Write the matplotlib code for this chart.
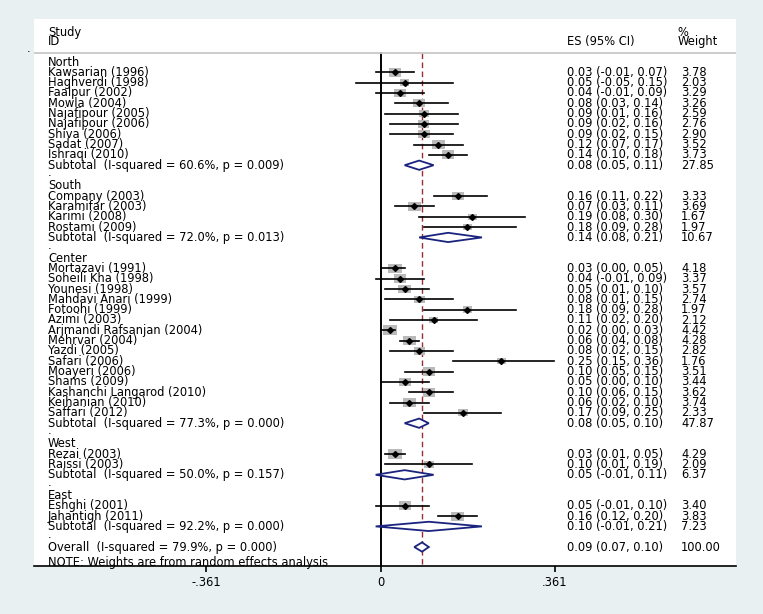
import numpy as np
import matplotlib
matplotlib.use("Agg")
import matplotlib.pyplot as plt
from matplotlib.patches import Rectangle, Polygon

plt.rcParams['font.family'] = ['DejaVu Sans']
plt.rcParams['font.size'] = 8.3

# ---- data ----
north_names = ["Kawsarian (1996)", "Haghverdi (1998)", "Faalpur (2002)", "Mowla (2004)",
               "Najafipour (2005)", "Najafipour (2006)", "Shiva (2006)", "Sadat (2007)",
               "Ishraqi (2010)"]
north_es = [0.03, 0.05, 0.04, 0.08, 0.09, 0.09, 0.09, 0.12, 0.14]
north_lo = [-0.01, -0.05, -0.01, 0.03, 0.01, 0.02, 0.02, 0.07, 0.10]
north_hi = [0.07, 0.15, 0.09, 0.14, 0.16, 0.16, 0.15, 0.17, 0.18]
north_wt = [3.78, 2.03, 3.29, 3.26, 2.59, 2.76, 2.90, 3.52, 3.73]

south_names = ["Company (2003)", "Karamifar (2003)", "Karimi (2008)", "Rostami (2009)"]
south_es = [0.16, 0.07, 0.19, 0.18]
south_lo = [0.11, 0.03, 0.08, 0.09]
south_hi = [0.22, 0.11, 0.30, 0.28]
south_wt = [3.33, 3.69, 1.67, 1.97]

center_names = ["Mortazavi (1991)", "Soheili Kha (1998)", "Younesi (1998)",
                "Mahdavi Anari (1999)", "Fotoohi (1999)", "Azimi (2003)",
                "Arjmandi Rafsanjan (2004)", "Mehrvar (2004)", "Yazdi (2005)",
                "Safari (2006)", "Moayeri (2006)", "Shams (2009)",
                "Kashanchi Langarod (2010)", "Keihanian (2010)", "Saffari (2012)"]
center_es = [0.03, 0.04, 0.05, 0.08, 0.18, 0.11, 0.02, 0.06, 0.08, 0.25, 0.10, 0.05, 0.10, 0.06, 0.17]
center_lo = [0.00, -0.01, 0.01, 0.01, 0.09, 0.02, 0.00, 0.04, 0.02, 0.15, 0.05, 0.00, 0.06, 0.02, 0.09]
center_hi = [0.05, 0.09, 0.10, 0.15, 0.28, 0.20, 0.03, 0.08, 0.15, 0.36, 0.15, 0.10, 0.15, 0.10, 0.25]
center_wt = [4.18, 3.37, 3.57, 2.74, 1.97, 2.12, 4.42, 4.28, 2.82, 1.76, 3.51, 3.44, 3.62, 3.74, 2.33]

west_names = ["Rezai (2003)", "Raissi (2003)"]
west_es = [0.03, 0.10]
west_lo = [0.01, 0.01]
west_hi = [0.05, 0.19]
west_wt = [4.29, 2.09]

east_names = ["Eshghi (2001)", "Jahantigh (2011)"]
east_es = [0.05, 0.16]
east_lo = [-0.01, 0.12]
east_hi = [0.10, 0.20]
east_wt = [3.40, 3.83]

group_names = ["North", "South", "Center", "West", "East"]
sub_i2 = [60.6, 72.0, 77.3, 50.0, 92.2]
sub_p = [0.009, 0.013, 0.000, 0.157, 0.000]
sub_es = [0.08, 0.14, 0.08, 0.05, 0.10]
sub_lo = [0.05, 0.08, 0.05, -0.01, -0.01]
sub_hi = [0.11, 0.21, 0.10, 0.11, 0.21]
sub_wt = [27.85, 10.67, 47.87, 6.37, 7.23]

overall_es, overall_lo, overall_hi, overall_wt = 0.086, 0.07, 0.10, 100.00
overall_i2, overall_p = 79.9, 0.000

xticks = [-0.361, 0, 0.361]
xtick_labels = ["-.361", "0", ".361"]

groups = [
    (north_names, north_es, north_lo, north_hi, north_wt),
    (south_names, south_es, south_lo, south_hi, south_wt),
    (center_names, center_es, center_lo, center_hi, center_wt),
    (west_names, west_es, west_lo, west_hi, west_wt),
    (east_names, east_es, east_lo, east_hi, east_wt),
]

# ---- figure ----
W, H = 763, 614
fig = plt.figure(figsize=(W / 100, H / 100), dpi=100, facecolor='#e8f0f2')
ax = fig.add_axes([34 / W, 48 / H, 702 / W, 547 / H])
ax.set_facecolor('white')

px_x = 483.0   # pixels per effect unit
px_row = 10.32  # pixels per row
ax.set_xlim(-346.5 / px_x, 355.5 / px_x)
ax.set_ylim(504 / px_row, -43 / px_row)

trans = ax.get_yaxis_transform()
x_lab, x_es, x_wt = 0.0199, 0.759, 0.9217
diamond_col = '#1a237e'


def fmt(es, lo, hi):
    return f"{es:.2f} ({lo:.2f}, {hi:.2f})"


def diamond(es, lo, hi, r):
    h = 0.45
    ax.add_patch(Polygon([(lo, r), (es, r - h), (hi, r), (es, r + h)], closed=True,
                         facecolor='white', edgecolor=diamond_col, lw=1.3, zorder=4))


row = 0
for g, (names, es, lo, hi, wt) in enumerate(groups):
    ax.text(x_lab, row, group_names[g], transform=trans, va='center')
    row += 1
    for n, e, l, h, w in zip(names, es, lo, hi, wt):
        side = 6.6 * np.sqrt(w)
        bw, bh = side / px_x, side / 1.42 / px_row
        ax.add_patch(Rectangle((e - bw / 2, row - bh / 2), bw, bh,
                               facecolor='#bababa', edgecolor='none', zorder=2))
        ax.plot([l, h], [row, row], color='black', lw=1.2, zorder=3)
        ax.plot(e, row, marker='D', color='black', ms=3, zorder=4)
        ax.text(x_lab, row, n, transform=trans, va='center')
        ax.text(x_es, row, fmt(e, l, h), transform=trans, va='center')
        ax.text(x_wt, row, f"{w:.2f}", transform=trans, va='center')
        row += 1
    diamond(sub_es[g], sub_lo[g], sub_hi[g], row)
    ax.text(x_lab, row, f"Subtotal  (I-squared = {sub_i2[g]:.1f}%, p = {sub_p[g]:.3f})",
            transform=trans, va='center')
    ax.text(x_es, row, fmt(sub_es[g], sub_lo[g], sub_hi[g]), transform=trans, va='center')
    ax.text(x_wt, row, f"{sub_wt[g]:.2f}", transform=trans, va='center')
    row += 1
    ax.text(x_lab, row - 0.25, ".", transform=trans, va='center')
    row += 1

diamond(overall_es, overall_lo, overall_hi, row)
ax.text(x_lab, row, f"Overall  (I-squared = {overall_i2:.1f}%, p = {overall_p:.3f})",
        transform=trans, va='center')
ax.text(x_es, row, fmt(overall_es, overall_lo, overall_hi), transform=trans, va='center')
ax.text(x_wt, row, f"{overall_wt:.2f}", transform=trans, va='center')
ax.text(x_lab, row + 1.5, "NOTE: Weights are from random effects analysis",
        transform=trans, va='center')

# headers
ax.text(x_lab, -2.9, "Study", transform=trans, va='center')
ax.text(x_lab, -1.95, "ID", transform=trans, va='center')
ax.text(x_es, -1.95, "ES (95% CI)", transform=trans, va='center')
ax.text(0.917, -2.9, "%", transform=trans, va='center')
ax.text(0.917, -1.95, "Weight", transform=trans, va='center')
ax.axhline(-0.87, color='#c8c8c8', lw=1.3)
fig.text(29 / W, 1 - 52 / H, ".", va='baseline', ha='center')

# reference lines
y_bot = ax.get_ylim()[0]
ax.plot([0, 0], [-0.87, y_bot], color='black', lw=1.4, zorder=1)
ax.plot([overall_es, overall_es], [-0.87, y_bot], color='#9b2d30', lw=1.0,
        dashes=(4, 2.5), zorder=1)

# axis
for s in ['top', 'right', 'left']:
    ax.spines[s].set_visible(False)
ax.spines['bottom'].set_linewidth(1.2)
ax.set_yticks([])
ax.set_xticks(xticks)
ax.set_xticklabels(xtick_labels)
ax.tick_params(axis='x', direction='out', length=4, width=1.2, pad=3)

fig.savefig("out.png", dpi=100, facecolor=fig.get_facecolor())
